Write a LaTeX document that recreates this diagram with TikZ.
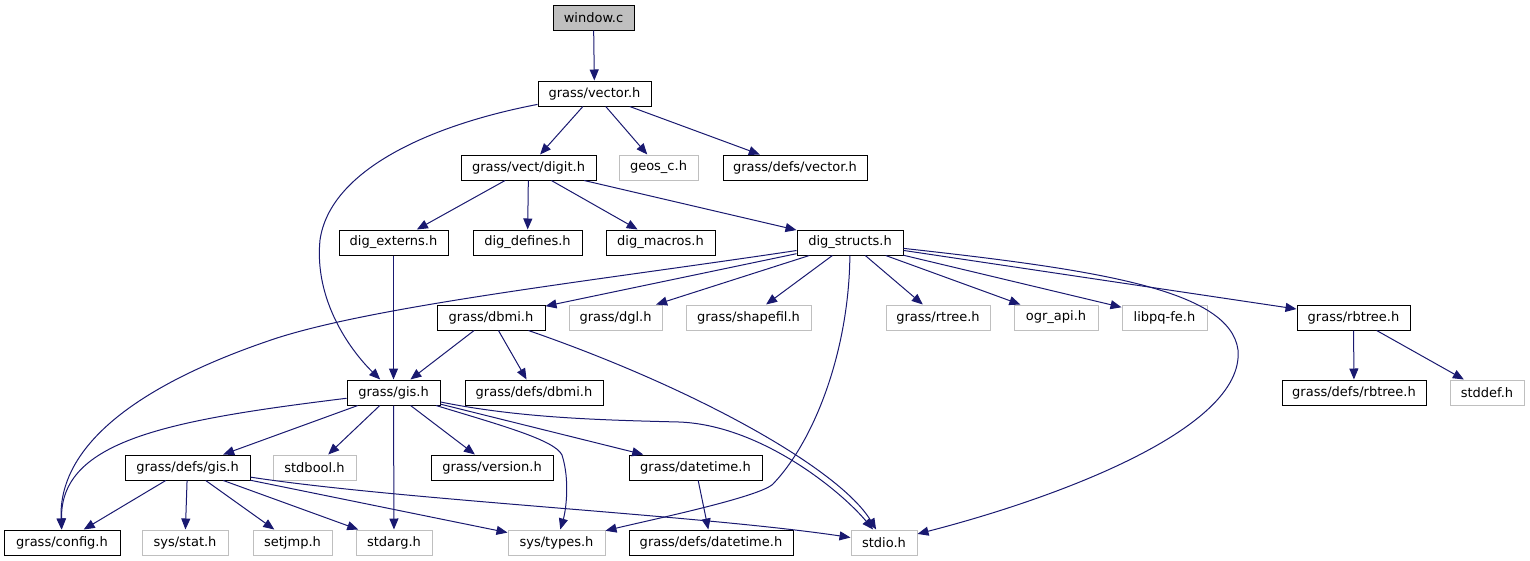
\documentclass[tikz,border=0pt]{standalone}
\usepackage{fontspec}
\setmainfont{DejaVu Sans}
\usetikzlibrary{arrows.meta}
\definecolor{edgec}{HTML}{191970}
\definecolor{grayb}{HTML}{BFBFBF}
\tikzset{
  box/.style={draw=black, line width=1pt, minimum height=25pt, inner sep=0pt, font=\fontsize{13}{15}\selectfont, fill=white},
  gbox/.style={box, draw=grayb},
  rootbox/.style={box, fill=grayb},
  edge/.style={draw=edgec, line width=1pt, -{Triangle[length=11pt,width=9pt]}},
}
\begin{document}
\begin{tikzpicture}[x=1pt,y=-1pt]
\useasboundingbox (0,0) rectangle (1530,560);
\node[rootbox, minimum width=81pt] (win) at (593.5,17.5) {window.c};
\node[box, minimum width=113pt] (vec) at (594.5,93.5) {grass/vector.h};
\node[box, minimum width=135pt] (dig) at (528.5,167.5) {grass/vect/digit.h};
\node[gbox, minimum width=79pt] (geos) at (658.5,167.5) {geos\_c.h};
\node[box, minimum width=144pt] (dvec) at (795,167.5) {grass/defs/vector.h};
\node[box, minimum width=109pt] (ext) at (393.5,242.5) {dig\_externs.h};
\node[box, minimum width=109pt] (def) at (527.5,242.5) {dig\_defines.h};
\node[box, minimum width=109pt] (mac) at (660.5,242.5) {dig\_macros.h};
\node[box, minimum width=106pt] (str) at (850,242.5) {dig\_structs.h};
\node[box, minimum width=108pt] (dbmi) at (491,317.5) {grass/dbmi.h};
\node[gbox, minimum width=93pt] (dgl) at (615.5,317.5) {grass/dgl.h};
\node[gbox, minimum width=125pt] (shp) at (748.5,317.5) {grass/shapefil.h};
\node[gbox, minimum width=104pt] (rtree) at (938,317.5) {grass/rtree.h};
\node[gbox, minimum width=84pt] (ogr) at (1056,317.5) {ogr\_api.h};
\node[gbox, minimum width=85pt] (pq) at (1164.5,317.5) {libpq-fe.h};
\node[box, minimum width=113pt] (rbt) at (1353.5,317.5) {grass/rbtree.h};
\node[box, minimum width=93pt] (gis) at (393.5,392.5) {grass/gis.h};
\node[box, minimum width=138pt] (ddbmi) at (534,392.5) {grass/defs/dbmi.h};
\node[box, minimum width=144pt] (drbt) at (1354,392.5) {grass/defs/rbtree.h};
\node[gbox, minimum width=74pt] (stddef) at (1487,392.5) {stddef.h};
\node[box, minimum width=125pt] (dgis) at (187.5,467.5) {grass/defs/gis.h};
\node[gbox, minimum width=83pt] (stdbool) at (314.5,467.5) {stdbool.h};
\node[box, minimum width=122pt] (ver) at (492,467.5) {grass/version.h};
\node[box, minimum width=133pt] (dt) at (695.5,467.5) {grass/datetime.h};
\node[box, minimum width=116pt] (cfg) at (62,542.5) {grass/config.h};
\node[gbox, minimum width=86pt] (stat) at (185,542.5) {sys/stat.h};
\node[gbox, minimum width=79pt] (setjmp) at (292.5,542.5) {setjmp.h};
\node[gbox, minimum width=76pt] (stdarg) at (394,542.5) {stdarg.h};
\node[gbox, minimum width=97pt] (types) at (556.5,542.5) {sys/types.h};
\node[box, minimum width=164pt] (ddt) at (711,542.5) {grass/defs/datetime.h};
\node[gbox, minimum width=66pt] (stdio) at (884,542.5) {stdio.h};

% straight edges
\path[edge] (win) -- (vec);
\path[edge] (vec) -- (dig);
\path[edge] (vec) -- (geos);
\path[edge] (vec) -- (dvec);
\path[edge] (dig) -- (ext);
\path[edge] (dig) -- (def);
\path[edge] (dig) -- (mac);
\path[edge] (dig) -- (str);
\path[edge] (ext) -- (gis);
\path[edge] (str) -- (dbmi);
\path[edge] (str) -- (dgl);
\path[edge] (str) -- (shp);
\path[edge] (str) -- (rtree);
\path[edge] (str) -- (ogr);
\path[edge] (str) -- (pq);
\path[edge] (str) -- (rbt);
\path[edge] (dbmi) -- (gis);
\path[edge] (dbmi) -- (ddbmi);
\path[edge] (rbt) -- (drbt);
\path[edge] (rbt) -- (stddef);
\path[edge] (gis) -- (dgis);
\path[edge] (gis) -- (stdbool);
\path[edge] (gis) -- (stdarg);
\path[edge] (gis) -- (ver);
\path[edge] (gis) -- (dt);
\path[edge] (dt) -- (ddt);
\path[edge] (dgis) -- (cfg);
\path[edge] (dgis) -- (stat);
\path[edge] (dgis) -- (setjmp);
\path[edge] (dgis) -- (stdarg);
\path[edge] (dgis) -- (types);

% curved edges
\path[edge] (vec) .. controls (430,125) and (330,170) .. (320,240) .. controls (314,300) and (350,350) .. (gis);
\path[edge] (str) .. controls (600,280) and (380,305) .. (277,338) .. controls (150,380) and (58,440) .. (cfg);
\path[edge] (gis) .. controls (170,420) and (60,440) .. (cfg);
\path[edge] (gis) .. controls (520,418) and (600,420) .. (679,422) .. controls (760,425) and (840,490) .. (stdio);
\path[edge] (gis) .. controls (500,425) and (555,440) .. (562,455) .. controls (570,480) and (566,510) .. (types);
\path[edge] (dbmi) .. controls (700,390) and (840,470) .. (stdio);
\path[edge] (str) .. controls (849,350) and (815,440) .. (773,484) .. controls (760,497) and (650,520) .. (types);
\path[edge] (str) .. controls (1100,270) and (1230,290) .. (1238,350) .. controls (1245,430) and (1050,500) .. (stdio);
\path[edge] (dgis) .. controls (400,500) and (700,515) .. (stdio);
\end{tikzpicture}
\end{document}
